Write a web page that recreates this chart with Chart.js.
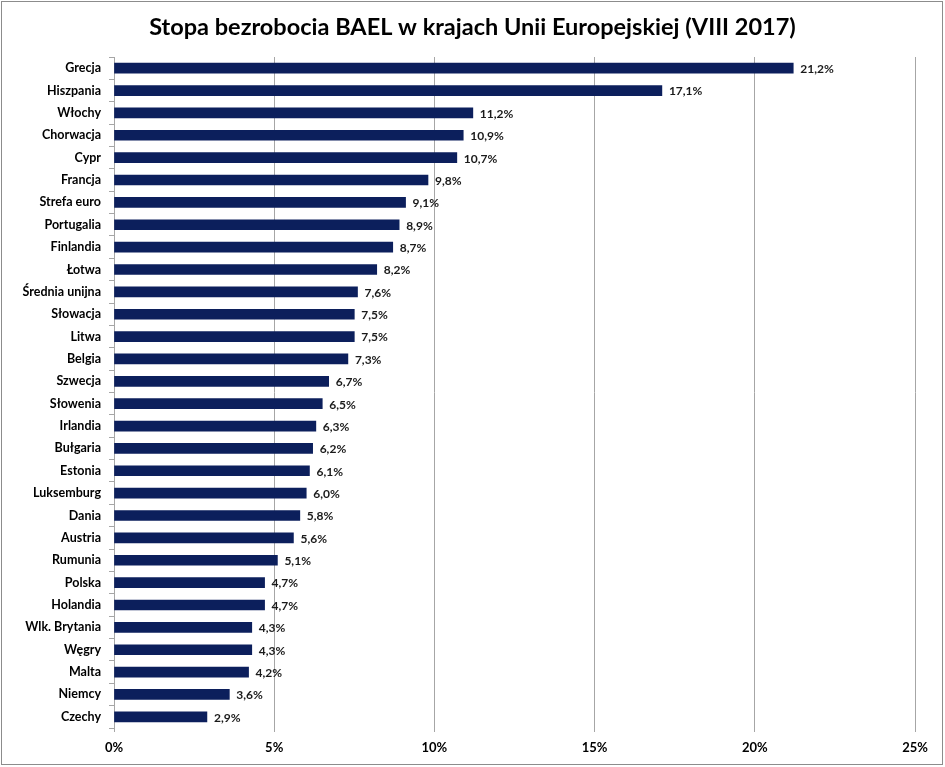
<!DOCTYPE html>
<html>
<head>
<meta charset="utf-8">
<script src="https://cdn.jsdelivr.net/npm/chart.js@4/dist/chart.umd.min.js"></script>
<style>
  html, body { margin: 0; padding: 0; background: #fff; }
  #wrap { width: 945px; height: 767px; }
</style>
</head>
<body>
<div id="wrap"><canvas id="bezrobocieChart" width="945" height="767"></canvas></div>
<script>
// dane (VIII 2017)
const tytul = 'Stopa bezrobocia BAEL w krajach Unii Europejskiej (VIII 2017)';
const kraje = ['Grecja', 'Hiszpania', 'Włochy', 'Chorwacja', 'Cypr', 'Francja', 'Strefa euro',
  'Portugalia', 'Finlandia', 'Łotwa', 'Średnia unijna', 'Słowacja', 'Litwa', 'Belgia', 'Szwecja',
  'Słowenia', 'Irlandia', 'Bułgaria', 'Estonia', 'Luksemburg', 'Dania', 'Austria', 'Rumunia',
  'Polska', 'Holandia', 'Wlk. Brytania', 'Węgry', 'Malta', 'Niemcy', 'Czechy'];
const stopa = [21.2, 17.1, 11.2, 10.9, 10.7, 9.8, 9.1, 8.9, 8.7, 8.2, 7.6, 7.5, 7.5, 7.3, 6.7,
  6.5, 6.3, 6.2, 6.1, 6.0, 5.8, 5.6, 5.1, 4.7, 4.7, 4.3, 4.3, 4.2, 3.6, 2.9];
const osX = ['0%', '5%', '10%', '15%', '20%', '25%'];

const fontFamily = 'Lato, "Noto Sans", sans-serif';

// tytul wysrodkowany na calej szerokosci + ramka wokol wykresu
const tloIRamka = {
  id: 'tloIRamka',
  afterDraw(chart) {
    const ctx = chart.ctx;
    ctx.save();
    ctx.font = 'bold 23.5px ' + fontFamily;
    ctx.fillStyle = '#000';
    ctx.textAlign = 'center';
    ctx.textBaseline = 'middle';
    ctx.fillText(tytul, chart.width / 2, 27);
    ctx.strokeStyle = '#8c8c8c';
    ctx.lineWidth = 1;
    ctx.strokeRect(1.5, 1.5, 941, 763);
    ctx.restore();
  }
};

// etykiety wartosci na koncu slupkow
const etykiety = {
  id: 'etykiety',
  afterDatasetsDraw(chart) {
    const ctx = chart.ctx;
    const meta = chart.getDatasetMeta(0);
    ctx.save();
    ctx.font = 'bold 12px ' + fontFamily;
    ctx.fillStyle = '#1a1a1a';
    ctx.textAlign = 'left';
    ctx.textBaseline = 'middle';
    meta.data.forEach(function(bar, i) {
      ctx.fillText(stopa[i].toFixed(1).replace('.', ',') + '%', bar.x + 7, bar.y + 1);
    });
    ctx.restore();
  }
};

let ctx = document.getElementById('bezrobocieChart').getContext('2d');
new Chart(ctx, {
  type: 'bar',
  data: {
    labels: kraje,
    datasets: [{
      data: stopa,
      backgroundColor: '#0c1f5c',
      borderWidth: 0,
      barThickness: 10
    }]
  },
  options: {
    indexAxis: 'y',
    responsive: false,
    animation: false,
    layout: { padding: { left: 0, right: 30, top: 57, bottom: 0 } },
    plugins: {
      legend: { display: false },
      tooltip: { enabled: false },
      title: { display: false }
    },
    scales: {
      x: {
        min: 0,
        max: 25,
        ticks: {
          stepSize: 5,
          color: '#000',
          padding: 8,
          font: { family: fontFamily, size: 13, weight: 'bold' },
          callback: function(v, i) { return osX[i]; }
        },
        grid: { color: '#a6a6a6', lineWidth: 1, tickLength: 4 },
        border: { display: false },
        afterFit: function(scale) { scale.height = 39; }
      },
      y: {
        ticks: {
          color: '#000',
          padding: 8,
          font: { family: fontFamily, size: 12.5, weight: 'bold' }
        },
        grid: { drawOnChartArea: false, color: '#a6a6a6', tickLength: 5, offset: true },
        border: { color: '#a6a6a6' },
        afterFit: function(scale) { scale.width = 114; }
      }
    }
  },
  plugins: [etykiety, tloIRamka]
});
</script>
</body>
</html>
